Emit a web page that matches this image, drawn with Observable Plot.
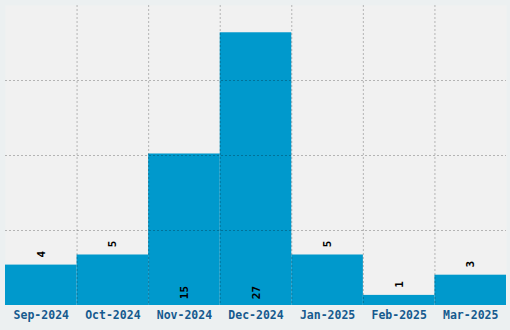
<!DOCTYPE html>
<html>
<head>
<meta charset="utf-8">
<script src="https://cdn.jsdelivr.net/npm/d3@7"></script>
<script src="https://cdn.jsdelivr.net/npm/@observablehq/plot@0.6"></script>
<style>
  html, body { margin: 0; padding: 0; background: #ecf0f1; }
</style>
</head>
<body>
<div id="chart"></div>
<script>
const months = ["Sep-2024", "Oct-2024", "Nov-2024", "Dec-2024", "Jan-2025", "Feb-2025", "Mar-2025"];
const counts = [4, 5, 15, 27, 5, 1, 3];
const yTop = 29.7;
const yGrid = [7.425, 14.85, 22.275];

const data = months.map((m, i) => ({i, m, v: counts[i]}));
const small = data.filter(d => d.v < 10);
const big = data.filter(d => d.v >= 10);

const chart = Plot.plot({
  width: 510,
  height: 330,
  marginLeft: 5,
  marginRight: 4,
  marginTop: 5,
  marginBottom: 25,
  style: {background: "#ecf0f1", fontFamily: "DejaVu Sans Mono"},
  x: {domain: [0, months.length], axis: null, label: null},
  y: {domain: [0, yTop], axis: null, label: null},
  marks: [
    Plot.frame({fill: "#f1f1f1", stroke: null}),
    Plot.rectY(data, {x1: "i", x2: d => d.i + 1, y1: 0, y2: "v", fill: "#0099cc"}),
    Plot.ruleX(d3.range(1, months.length), {stroke: "#000", strokeOpacity: 0.25, strokeDasharray: "2,2"}),
    Plot.ruleY(yGrid, {stroke: "#000", strokeOpacity: 0.25, strokeDasharray: "2,2"}),
    Plot.text(small, {x: d => d.i + 0.5, y: "v", text: d => String(d.v), rotate: -90, dy: -11,
      fontWeight: "bold", fontSize: 11, fill: "#000"}),
    Plot.text(big, {x: d => d.i + 0.5, y: 0, text: d => String(d.v), rotate: -90, dy: -13,
      fontWeight: "bold", fontSize: 11, fill: "#000"}),
    Plot.axisX(data.map(d => d.i + 0.5), {tickSize: 0, tickPadding: 5, label: null,
      tickFormat: d => months[Math.floor(d)], fontSize: 11.5, fontWeight: "bold", fill: "#165a8e"})
  ]
});
document.getElementById("chart").append(chart);
</script>
</body>
</html>
